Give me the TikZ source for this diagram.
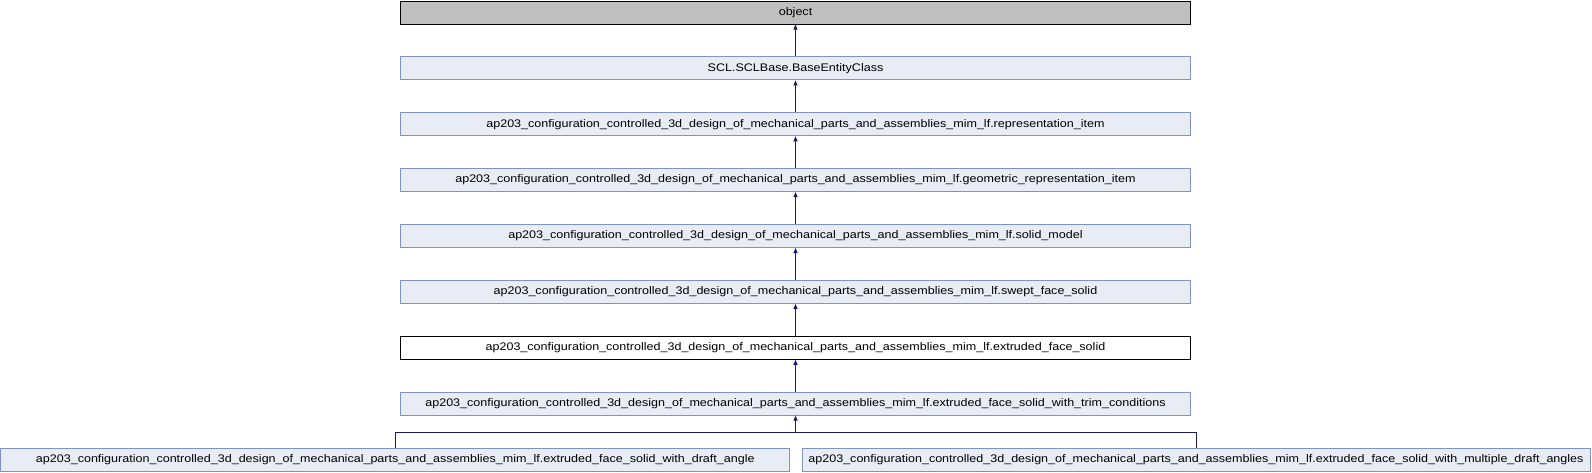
\documentclass[tikz,border=0pt]{standalone}
\usepackage{fontspec}
\setmainfont[FakeStretch=1.14]{Liberation Sans}
\usepackage{tikz}
\usetikzlibrary{arrows.meta}
\definecolor{dxEdge}{HTML}{191970}
\definecolor{dxFill}{HTML}{E8ECF5}
\definecolor{dxLine}{HTML}{7F93C9}
\definecolor{dxGray}{HTML}{BFBFBF}
\newcommand{\apmod}{ap203\_configuration\_controlled\_3d\_design\_of\_mechanical\_parts\_and\_assemblies\_mim\_lf}

\begin{document}
\begin{tikzpicture}[
  x=1pt,y=-1pt,
  every node/.style={font=\fontsize{11}{13}\selectfont},
  cls/.style={draw=dxLine,fill=dxFill,line width=1pt,minimum height=23pt,
    minimum width=790pt,inner sep=0pt,align=center},
  link/.style={-{Triangle[length=5pt,width=4pt]},line width=1pt,draw=dxEdge},
  plain/.style={line width=1pt,draw=dxEdge}
]
  \useasboundingbox (0,0) rectangle (1592,472);
  \node[cls,draw=black,fill=dxGray] (obj) at (795.5,12.5) {object};
  \node[cls] (base) at (795.5,68.4) {SCL.SCLBase.BaseEntityClass};
  \node[cls] (rep) at (795.5,124.3) {\apmod.representation\_item};
  \node[cls] (geo) at (795.5,180.1) {\apmod.geometric\_representation\_item};
  \node[cls] (solid) at (795.5,236.0) {\apmod.solid\_model};
  \node[cls] (swept) at (795.5,291.9) {\apmod.swept\_face\_solid};
  \node[cls,draw=black,fill=white] (extr) at (795.5,347.8) {\apmod.extruded\_face\_solid};
  \node[cls] (trim) at (795.5,403.6) {\apmod.extruded\_face\_solid\_with\_trim\_conditions};
  \node[cls,minimum width=789pt] (draft) at (395.3,459.5)
    {\apmod.extruded\_face\_solid\_with\_draft\_angle};
  \node[cls,minimum width=788pt] (multi) at (1196,459.5)
    {\apmod.extruded\_face\_solid\_with\_multiple\_draft\_angles};

  \draw[link] (base) -- (obj);
  \draw[link] (rep) -- (base);
  \draw[link] (geo) -- (rep);
  \draw[link] (solid) -- (geo);
  \draw[link] (swept) -- (solid);
  \draw[link] (extr) -- (swept);
  \draw[link] (trim) -- (extr);
  \coordinate (join) at (795.5,432);
  \draw[plain] (draft.north) |- (join);
  \draw[plain] (multi.north) |- (join);
  \draw[link] (join) -- (trim.south);
\end{tikzpicture}
\end{document}
